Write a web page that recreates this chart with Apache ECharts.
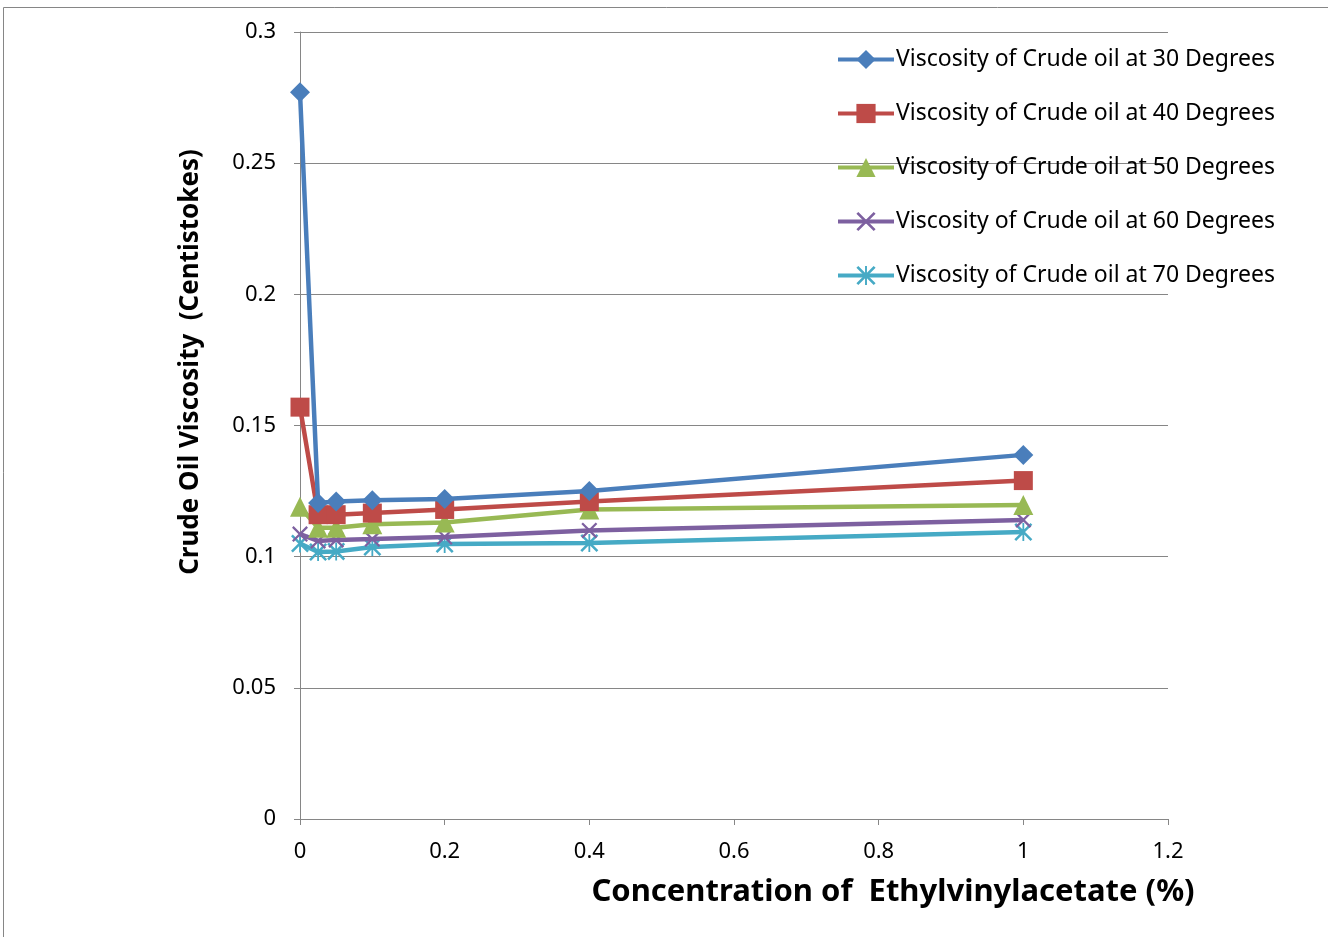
<!DOCTYPE html>
<html>
<head>
<meta charset="utf-8">
<script src="https://cdn.jsdelivr.net/npm/echarts@6/dist/echarts.min.js"></script>
<style>
html, body { margin: 0; padding: 0; background: #fff; }
#main { width: 1328px; height: 937px; }
</style>
</head>
<body>
<div id="main"></div>
<script>
// 浓度（x轴）
var concentration = [0, 0.025, 0.05, 0.1, 0.2, 0.4, 1];
// 各温度下的粘度
var visc30 = [0.277, 0.1205, 0.121, 0.1215, 0.122, 0.125, 0.1388];
var visc40 = [0.157, 0.116, 0.116, 0.1166, 0.118, 0.121, 0.129];
var visc50 = [0.119, 0.111, 0.111, 0.1124, 0.113, 0.118, 0.1197];
var visc60 = [0.1086, 0.106, 0.1064, 0.1067, 0.1075, 0.11, 0.114];
var visc70 = [0.105, 0.1018, 0.102, 0.1037, 0.1048, 0.1052, 0.1094];
var seriesNames = [
  'Viscosity of Crude oil at 30 Degrees',
  'Viscosity of Crude oil at 40 Degrees',
  'Viscosity of Crude oil at 50 Degrees',
  'Viscosity of Crude oil at 60 Degrees',
  'Viscosity of Crude oil at 70 Degrees'
];

var font = "'Noto Sans', sans-serif";
var colors = ['#4A7EBB', '#BE4B48', '#98B954', '#7D60A0', '#46AAC5'];
var symX = 'path://M0,1L1,0L10,9L9,10Z M9,0L10,1L1,10L0,9Z';
var symStar = 'path://M0,1L1,0L10,9L9,10Z M9,0L10,1L1,10L0,9Z M4.5,0L5.5,0L5.5,10L4.5,10Z';
var symbols = ['diamond', 'rect', 'triangle', symX, symStar];
var sizes = [20, 19, 20, 16, 18];
var allData = [visc30, visc40, visc50, visc60, visc70];

function pairs(ys){
  var out = [];
  for (var i = 0; i < concentration.length; i++) {
    out.push([concentration[i], ys[i]]);
  }
  return out;
}

var series = [];
for (var k = 0; k < allData.length; k++) {
  series.push({
    name: seriesNames[k],
    type: 'line',
    data: pairs(allData[k]),
    symbol: symbols[k],
    symbolSize: sizes[k],
    showAllSymbol: true,
    lineStyle: { color: colors[k], width: 4.5 },
    itemStyle: { color: colors[k] },
    z: 10 - k
  });
}

var myChart = echarts.init(document.getElementById('main'));
var option = {
  animation: false,
  color: colors,
  graphic: [{
    type: 'rect',
    shape: { x: 3.5, y: 7.5, width: 1340, height: 950 },
    style: { fill: 'none', stroke: '#868686', lineWidth: 1 }
  }],
  grid: { left: 300, top: 32, right: 160, bottom: 118, containLabel: false },
  legend: {
    orient: 'vertical',
    left: 831,
    top: 43,
    itemWidth: 56,
    itemHeight: 24,
    itemGap: 31,
    lineStyle: { width: 4 },
    textStyle: { fontFamily: font, fontSize: 23, color: '#000', padding: [0, 0, 0, -3] },
    data: seriesNames
  },
  xAxis: {
    type: 'value',
    min: 0,
    max: 1.2,
    interval: 0.2,
    name: 'Concentration of  Ethylvinylacetate (%)',
    nameLocation: 'middle',
    nameGap: 58,
    nameTextStyle: { fontFamily: font, fontSize: 31, fontWeight: 'bold', color: '#000', padding: [0, 0, 0, 318] },
    axisLine: { lineStyle: { color: '#868686', width: 1 } },
    axisTick: { show: true, length: 6, lineStyle: { color: '#868686' } },
    axisLabel: { fontFamily: font, fontSize: 22, color: '#000', margin: 22 },
    splitLine: { show: false }
  },
  yAxis: {
    type: 'value',
    min: 0,
    max: 0.3,
    interval: 0.05,
    name: 'Crude Oil Viscosity  (Centistokes)',
    nameLocation: 'middle',
    nameGap: 96,
    nameRotate: 90,
    nameTextStyle: { fontFamily: font, fontSize: 26, fontWeight: 'bold', color: '#000', padding: [0, 0, 0, 127] },
    axisLine: { show: true, lineStyle: { color: '#868686', width: 1 } },
    axisTick: { show: true, length: 6, lineStyle: { color: '#868686' } },
    axisLabel: { fontFamily: font, fontSize: 22, color: '#000', margin: 24 },
    splitLine: { lineStyle: { color: '#868686', width: 1 } }
  },
  series: series
};
myChart.setOption(option);
</script>
</body>
</html>
